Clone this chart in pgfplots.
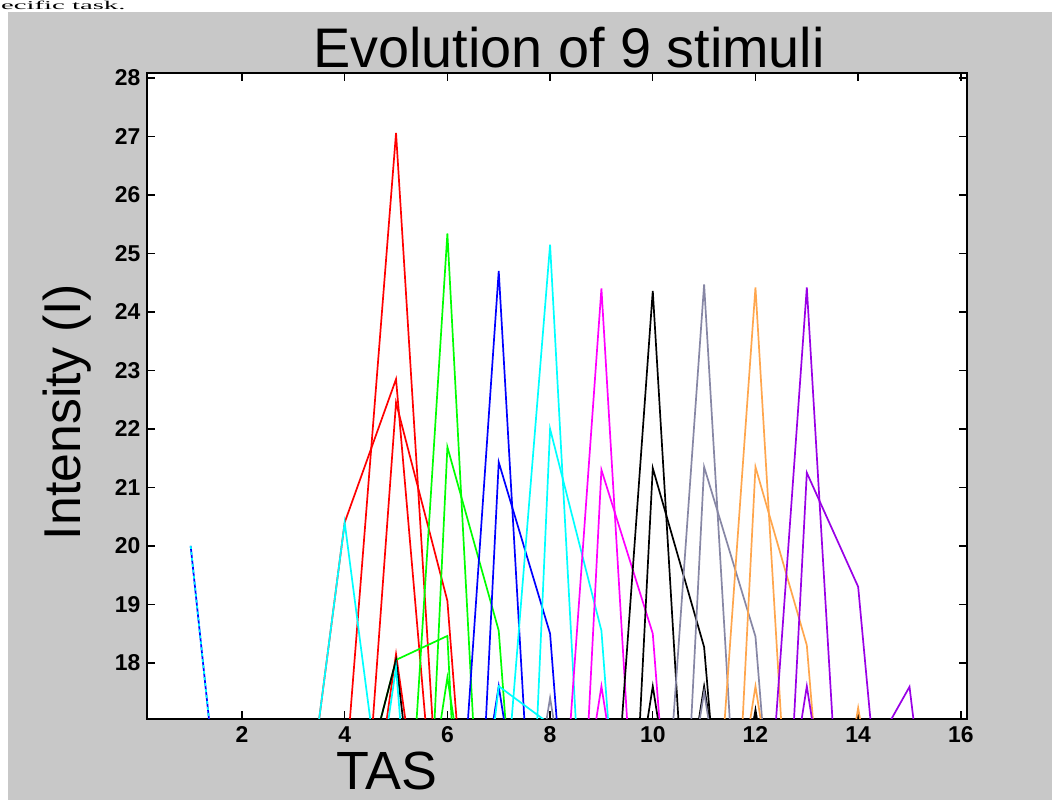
\documentclass[border=0pt]{standalone}
\usepackage{graphicx}
\usepackage{pgfplots}
\pgfplotsset{compat=1.18}
\usepackage{fontspec}
\setmainfont{Liberation Sans}
\newfontfamily\seriffont{Liberation Serif}
\definecolor{bggray}{RGB}{200,200,200}
\definecolor{mgray}{RGB}{135,135,165}
\definecolor{morange}{RGB}{255,166,77}
\definecolor{mpurple}{RGB}{153,0,230}
\definecolor{mcyan}{RGB}{0,255,255}
\definecolor{mmag}{RGB}{255,0,255}
\definecolor{mgreen}{RGB}{0,255,0}
\definecolor{mred}{RGB}{255,0,0}
\definecolor{mblue}{RGB}{0,0,255}
\begin{document}
\begin{tikzpicture}[x=1bp,y=1bp]
\useasboundingbox (0,0) rectangle (1052,800);
\fill[white] (0,0) rectangle (1052,800);
\fill[bggray] (8,0) rectangle (1052,788);
\node[anchor=base west, font=\seriffont\fontsize{12}{12}\selectfont, inner sep=0] at (1,790.5) {\scalebox{2.4}[1]{ecific task.}};
\begin{axis}[at={(147bp,81bp)}, anchor=south west, width=820bp, height=646bp, scale only axis,
 xmin=0.15, xmax=16.12, ymin=17.04, ymax=28.085,
 xtick={2,4,...,16}, ytick={18,19,...,28},
 axis background/.style={fill=white},
 axis line style={line width=1.8bp},
 tick align=inside, major tick length=8bp, tick style={line width=1.4bp, black},
 ticklabel style={font=\fontsize{23}{23}\selectfont\bfseries},
 /pgf/number format/assume math mode=true,
 xticklabel style={yshift=-4bp}, yticklabel style={xshift=-3bp},
 every axis plot/.append style={line width=1.7bp, mark=none},
 clip=true]
% x = 1 line
\addplot[mblue] coordinates {(1,20.0) (2,11.7)};
\addplot[mcyan, dash pattern=on 3bp off 3bp] coordinates {(1,20.0) (2,11.7)};
% red stimulus (5)
\addplot[mred] coordinates {(4,15.9) (5,27.06) (6,12.92)};
\addplot[mred] coordinates {(3,13.64) (4,20.4) (5,22.85) (6,12.65)};
\addplot[mred] coordinates {(4,10.4) (5,22.45) (6,19.06) (7,7.7)};
\addplot[mred] coordinates {(4,12) (5,18.15) (6,12)};
\addplot[mcyan] coordinates {(3,13.64) (4,20.4) (5,13.64)};
\addplot[mgreen] coordinates {(4,14.65) (5,18.05) (6,18.46) (7,1)};
\addplot[black] coordinates {(4,14.65) (5,18.05) (6,10.55)};
\addplot[mcyan] coordinates {(4,11.9) (5,17.92) (6,6.9)};
% green (6)
\addplot[mgreen] coordinates {(5,11.47) (6,25.34) (7,8.70)};
\addplot[mgreen] coordinates {(5,3.01) (6,21.69) (7,18.55) (8,6.78)};
\addplot[mgreen] coordinates {(5,12) (6,17.75) (7,12)};
% blue (7)
\addplot[mblue] coordinates {(6,11.9) (7,24.70) (8,9.34)};
\addplot[mblue] coordinates {(6,3.79) (7,21.43) (8,18.5) (9,7.1)};
\addplot[mblue] coordinates {(6,12) (7,17.6) (8,12)};
\addplot[mcyan] coordinates {(6,10) (7,17.6) (8,16.95) (9,5)};
% cyan (8)
\addplot[mcyan] coordinates {(7,14.31) (8,25.15) (9,8.89)};
\addplot[mcyan] coordinates {(7,2.08) (8,22.0) (9,18.55) (10,6.78)};
\addplot[mgray] coordinates {(7,12) (8,17.4) (9,12)};
% magenta (9)
\addplot[mmag] coordinates {(8,12.1) (9,24.4) (10,9.64)};
\addplot[mmag] coordinates {(8,4.18) (9,21.3) (10,18.5) (11,7.1)};
\addplot[mmag] coordinates {(8,12) (9,17.6) (10,12)};
% black (10)
\addplot[black] coordinates {(9,12.13) (10,24.36) (11,9.68)};
\addplot[black] coordinates {(9,4.09) (10,21.33) (11,18.27) (12,7.85)};
\addplot[black] coordinates {(9,12) (10,17.6) (11,12)};
\addplot[black] coordinates {(10,12) (11,17.6) (12,12)};
\addplot[black] coordinates {(11,12) (12,17.2) (13,12)};
% gray (11)
\addplot[mgray] coordinates {(10,12.05) (11,24.47) (12,9.57)};
\addplot[mgray] coordinates {(10,4.03) (11,21.35) (12,18.45) (13,7.45)};
\addplot[mgray] coordinates {(10,12) (11,17.5) (12,12)};
% orange (12)
\addplot[morange] coordinates {(11,12.09) (12,24.42) (13,9.62)};
\addplot[morange] coordinates {(11,4.03) (12,21.35) (13,18.3) (14,7.63)};
\addplot[morange] coordinates {(11,12) (12,17.6) (13,12)};
\addplot[morange] coordinates {(13,12) (14,17.23) (15,12)};
% purple (13)
\addplot[mpurple] coordinates {(12,12.09) (13,24.42) (14,9.62)};
\addplot[mpurple] coordinates {(12,4.33) (13,21.25) (14,19.3) (15,9.8)};
\addplot[mpurple] coordinates {(12,12) (13,17.6) (14,12)};
\addplot[mpurple] coordinates {(14,16.03) (15,17.59) (16,10.35)};
\end{axis}
\node[anchor=base, font=\fontsize{56}{56}\selectfont] at (569,732) {Evolution of 9 stimuli};
\node[rotate=90, anchor=base, font=\fontsize{52}{52}\selectfont] at (80,388) {Intensity (I)};
\node[anchor=base, font=\fontsize{54}{54}\selectfont] at (387,10) {TAS};
\end{tikzpicture}
\end{document}
